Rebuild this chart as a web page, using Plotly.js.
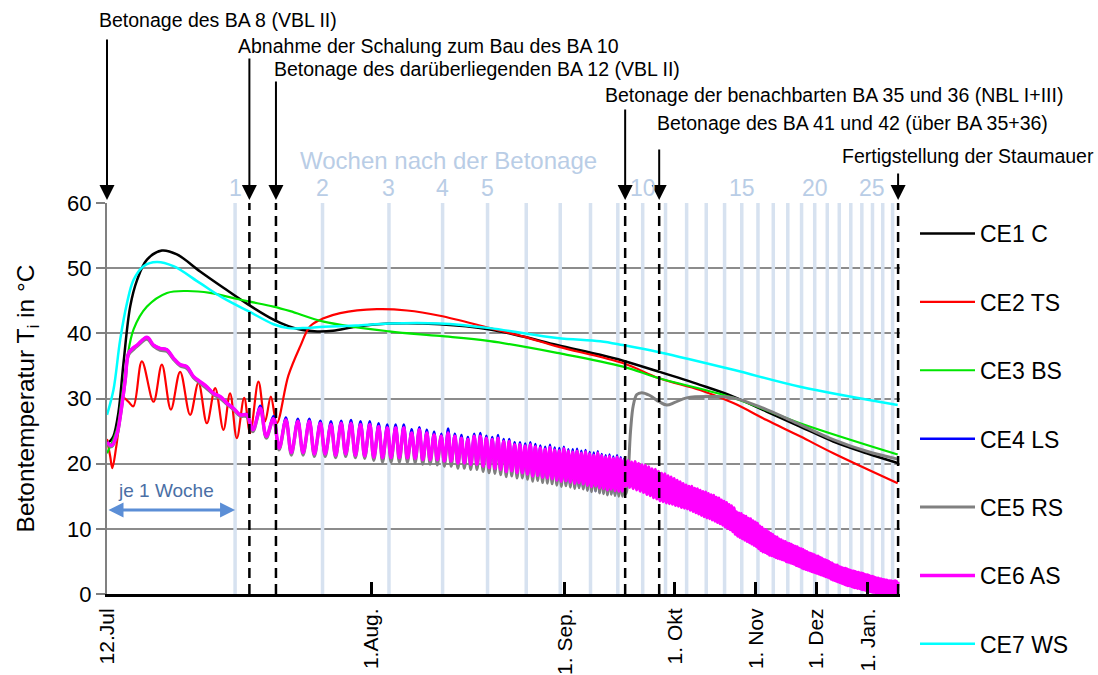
<!DOCTYPE html>
<html>
<head>
<meta charset="utf-8">
<script src="https://cdn.plot.ly/plotly-3.0.1.min.js"></script>
<style>html,body{margin:0;padding:0;background:#fff;}#chart{width:1098px;height:675px;}</style>
</head>
<body>
<div id="chart"></div>
<script>
// ---------------- DATA (days after concreting, temperature in °C) ----------------
const seriesNames = ['CE1 C', 'CE2 TS', 'CE3 BS', 'CE4 LS', 'CE5 RS', 'CE6 AS', 'CE7 WS'];

const dateTickDays = [0, 19, 50, 80, 111, 141, 172];
const dateTickLabels = ['12.Jul', '1.Aug.', '1. Sep.', '1. Okt', '1. Nov', '1. Dez', '1. Jan.'];

const weekNumbers = [1,2,3,4,5,6,7,8,9,10,11,12,13,14,15,16,17,18,19,20,21,22,23,24,25,26,27];
const weekLabelNumbers = [1, 2, 3, 4, 5, 10, 15, 20, 25];

const eventDays = [0, 8, 10, 65, 75, 193];
const eventTexts = [
  'Betonage des BA 8 (VBL II)',
  'Abnahme der Schalung zum Bau des BA 10',
  'Betonage des darüberliegenden BA 12 (VBL II)',
  'Betonage der benachbarten BA 35 und 36 (NBL I+III)',
  'Betonage des BA 41 und 42 (über BA 35+36)',
  'Fertigstellung der Staumauer'
];

// CE1 C
const cDays = [0, 0.14, 0.28, 0.5, 0.73, 1.04, 1.37, 1.85, 2.61, 3.42, 4.76, 6.22, 7.93, 9.81, 11.0, 12.2, 13.5, 15.0, 17.3, 21.0, 27.6, 35.4, 41.4, 48.3, 58.4, 64.4, 75.0, 88.7, 101.5, 115.9, 132.2, 150.5, 171.2, 192.7];
const cTemp = [23.2, 23.5, 24.2, 27.8, 35.4, 44.1, 48.2, 51.3, 52.7, 52.1, 49.5, 47.0, 44.4, 42.1, 41.1, 40.5, 40.3, 40.4, 41.0, 41.5, 41.4, 40.6, 39.5, 38.2, 36.7, 35.8, 34.1, 32.1, 30.3, 28.0, 25.7, 23.4, 21.6, 20.1];

// CE2 TS
const tsDays = [0, 0.14, 0.23, 0.4, 0.58, 0.73, 0.96, 1.19, 1.6, 2.18, 2.61, 3.09, 3.6, 4.17, 4.66, 5.17, 5.69, 6.22, 6.66, 7.12, 7.63, 8.05, 8.66, 9.16, 9.6, 10.07, 11.0, 12.0, 12.87, 14.1, 15.7, 19.6, 23.2, 27.6, 35.4, 41.5, 48.3, 64.5, 75.0, 88.7, 101.5, 115.9, 132.2, 150.5, 192.7];
const tsTemp = [23.8, 21.1, 19.3, 22.5, 27.2, 30.1, 29.5, 28.8, 35.7, 29.5, 35.2, 28.3, 34.1, 27.5, 32.4, 26.2, 31.6, 25.2, 30.8, 23.9, 30.1, 24.7, 32.6, 26.5, 30.3, 26.2, 33.5, 38.0, 41.1, 42.3, 43.1, 43.7, 43.5, 42.7, 40.8, 39.5, 38.0, 35.4, 33.1, 31.3, 29.3, 26.7, 24.2, 21.6, 17.0];

// CE3 BS
const bsDays = [0, 0.43, 0.65, 0.89, 1.2, 1.85, 2.88, 3.98, 5.37, 6.89, 7.93, 9.81, 11.16, 14.1, 21.0, 27.6, 35.4, 48.3, 64.4, 75.0, 101.5, 132.2, 192.7];
const bsTemp = [21.6, 25.2, 30.0, 35.9, 40.6, 44.1, 46.2, 46.5, 46.2, 45.4, 44.9, 44.1, 43.4, 41.8, 40.3, 39.6, 38.8, 37.0, 34.9, 33.1, 30.1, 26.2, 21.4];

// CE7 WS
const wsDays = [0, 0.28, 0.58, 0.89, 1.2, 1.68, 2.35, 3.23, 4.76, 6.22, 7.93, 9.81, 11.0, 12.2, 14.1, 17.3, 21.0, 27.6, 35.4, 48.3, 58.4, 64.4, 75.0, 101.5, 132.2, 192.7];
const wsTemp = [27.5, 31.3, 39.0, 44.6, 48.2, 50.3, 50.95, 50.3, 47.7, 45.4, 43.4, 41.4, 40.8, 40.8, 41.0, 41.2, 41.5, 41.5, 40.8, 39.3, 38.8, 38.2, 37.1, 34.4, 31.8, 29.0];

// CE4 LS / CE5 RS / CE6 AS: first days (smooth), then daily minimum and maximum
const earlyDays = [0, 0.2, 0.45, 0.58, 0.81, 0.97, 1.2, 1.37, 1.85, 2.18, 2.52, 2.88, 3.23, 3.6, 3.98, 4.36, 4.76, 5.17, 5.58, 6.01, 6.45, 6.89, 7.35, 7.82];
const lsEarlyTemp = [23.3, 22.8, 24.8, 27.2, 32.9, 37.0, 37.8, 38.2, 39.4, 38.2, 37.7, 37.5, 36.2, 35.2, 34.9, 33.4, 32.6, 31.8, 30.8, 30.3, 29.3, 28.5, 27.5, 27.6];
const rsEarlyTemp = [23.0, 22.6, 24.5, 27.0, 32.6, 36.7, 37.5, 38.0, 39.1, 38.0, 37.4, 37.2, 36.0, 35.0, 34.6, 33.2, 32.3, 31.5, 30.6, 30.0, 29.1, 28.3, 27.3, 27.2];
const asEarlyTemp = [23.3, 22.8, 24.8, 27.2, 32.9, 37.0, 37.8, 38.2, 39.4, 38.2, 37.7, 37.5, 36.2, 35.2, 34.9, 33.4, 32.6, 31.8, 30.8, 30.3, 29.3, 28.5, 27.5, 27.5];

const dailyStartDay = 8;

// CE4 LS, days 8..64
const lsHigh = [28.9,27.3,27.1,26.9,26.9,26.6,26.5,26.6,26.7,26.5, 26.5,26.2,26.0,26.0,26.0,25.3,25.6,25.2,24.9,24.6, 25.4,24.6,24.4,24.1,24.6,24.7,24.3,24.1,24.4,23.8, 23.8,23.3,23.3,23.1,23.3,23.0,22.8,22.6,22.9,22.5, 22.4,22.6,22.2,22.2,22.3,22.0,22.1,21.8,21.7,21.9, 21.5,21.3,21.4,21.1,21.3,21.0,20.9];
const lsLow = [25.0,24.0,22.3,21.6,21.6,21.4,21.4,21.2,21.4,21.2, 21.1,20.9,20.8,20.8,20.8,20.8,20.7,20.5,20.5,20.5, 20.2,20.2,20.0,19.9,19.7,19.7,19.4,19.2,19.1,18.9, 18.6,18.6,18.3,18.3,18.1,17.8,17.8,17.5,17.4,17.2, 17.0,16.8,16.8,16.6,16.4,16.4,16.2,16.0,15.8,15.8, 15.6,15.5,15.3,15.4,15.2,15.3,15.4];

// CE5 RS, days 8..64, then after the jump
const rsHigh = [28.2,26.7,26.5,26.3,26.3,26.0,25.8,26.0,26.0,25.8, 25.8,25.5,25.3,25.3,25.3,24.5,25.0,24.5,24.2,24.0, 24.4,24.0,23.7,23.5,24.0,24.0,23.7,23.5,23.7,23.2, 23.2,22.7,22.7,22.5,22.7,22.4,22.2,22.0,22.3,21.9, 21.8,22.1,21.7,21.6,21.7,21.4,21.6,21.3,21.1,21.4, 21.0,20.8,20.9,20.6,20.8,20.5,20.4];
const rsLow = [24.9,23.9,22.1,21.3,21.3,21.1,21.1,20.9,21.1,20.9, 20.8,20.5,20.2,20.2,20.2,20.2,20.1,19.9,19.9,19.8, 19.6,19.6,19.3,19.3,19.1,19.1,18.8,18.6,18.5,18.3, 18.0,18.1,17.8,17.8,17.6,17.3,17.4,17.1,17.0,16.9, 16.7,16.5,16.6,16.4,16.2,16.3,16.1,15.9,15.7,15.8, 15.5,15.4,15.2,15.3,15.1,15.0,15.0];
const rsLateDays = [65.3, 65.9, 66.5, 67.3, 68.3, 69.7, 72.0, 75.0, 77.4, 80.0, 84.0, 92.4, 101.5, 115.9, 132.2, 150.5, 171.2, 192.7];
const rsLateTemp = [15.4, 19.0, 25.0, 29.0, 30.6, 30.9, 30.5, 29.5, 29.0, 29.4, 30.1, 30.3, 30.1, 28.3, 26.0, 23.7, 21.9, 20.7];

// CE6 AS, days 8..192
const asHigh = [
 28.5,26.9,26.7,26.5,26.5,26.2,26.0,26.2,26.2,26.0,
 26.0,25.7,25.5,25.5,25.5,24.7,25.2,24.7,24.4,24.2,
 24.7,24.2,23.9,23.7,24.2,24.2,23.9,23.7,23.9,23.4,
 23.4,22.9,22.9,22.7,22.9,22.6,22.4,22.2,22.5,22.1,
 22.0,22.3,21.9,21.8,21.9,21.6,21.8,21.5,21.3,21.6,
 21.2,21.0,21.1,20.8,21.0,20.7,20.6,
 20.4,20.2,20.3,20.0,19.8,19.7,19.5,19.2,19.1,18.8,
 18.5,18.4,18.1,17.9,17.7,17.4,17.2,16.9,16.7,16.5,
 16.5,16.2,16.1,15.9,15.7,15.6,15.4,15.2,15.1,14.8,
 14.7,14.4,14.2,14.0,13.7,13.5,13.2,12.6,12.4,12.3,
 12.0,11.9,11.6,11.5,11.2,11.0,10.8,10.4,10.2,9.9,
 9.8,9.5,9.3,9.1,8.8,8.7,8.4,8.3,8.1,8.0,
 7.8,7.7,7.6,7.4,7.3,7.2,7.0,6.9,6.8,6.6,
 6.5,6.3,6.2,6.1,6.0,5.8,5.8,5.6,5.5,5.3,
 5.2,5.1,5.0,4.8,4.7,4.5,4.4,4.4,4.2,4.1,
 4.0,3.9,3.9,3.8,3.7,3.6,3.5,3.5,3.4,3.3,
 3.3,3.2,3.2,3.1,3.0,2.9,2.9,2.8,2.7,2.7,
 2.6,2.5,2.4,2.4,2.3,2.3,2.2,2.2,2.1,2.1,
 2.0,2.0,2.0,1.9,1.9,2.0,1.9,1.9];
const asLow = [
 25.2,24.2,22.4,21.7,21.7,21.5,21.5,21.3,21.5,21.3,
 21.2,21.0,20.9,20.9,20.9,20.9,20.8,20.6,20.6,20.6,
 20.4,20.4,20.1,20.1,19.9,19.9,19.6,19.4,19.3,19.1,
 18.8,18.9,18.6,18.6,18.4,18.1,18.2,17.9,17.8,17.7,
 17.5,17.3,17.4,17.2,17.0,17.1,16.9,16.7,16.5,16.6,
 16.3,16.2,16.0,16.1,15.9,15.8,15.8,
 16.6,16.4,16.2,16.0,15.8,15.6,15.3,15.1,14.8,14.6,
 14.3,14.2,14.0,13.9,13.8,13.6,13.5,13.3,13.2,13.1,
 12.9,12.7,12.5,12.3,12.1,11.9,11.7,11.6,11.4,11.2,
 11.0,10.8,10.6,10.3,10.1,9.9,9.6,9.2,8.9,8.7,
 8.5,8.3,8.1,7.9,7.7,7.5,7.3,7.0,6.7,6.5,
 6.4,6.2,6.0,5.9,5.8,5.6,5.5,5.4,5.3,5.2,
 5.0,4.9,4.8,4.7,4.6,4.4,4.3,4.2,4.0,3.9,
 3.8,3.7,3.6,3.5,3.4,3.3,3.2,3.1,3.0,2.9,
 2.8,2.7,2.6,2.5,2.3,2.2,2.1,2.0,1.9,1.8,
 1.7,1.6,1.5,1.4,1.3,1.3,1.2,1.1,1.0,1.0,
 0.9,0.9,0.8,0.7,0.7,0.6,0.5,0.5,0.4,0.4,
 0.3,0.3,0.2,0.2,0.2,0.1,0.1,0.1,0.1,0.2,
 0.2,0.1,0.1,0.2,0.1,0.2,0.1,0.1];

// ---------------- BUILD ----------------
const DAY_OFFSET = 12;           // x axis: logarithmic in (days + 12)
const TROUGH_PHASE = 0.25, PEAK_PHASE = 0.8;
const lx = t => t + DAY_OFFSET;
const logx = t => Math.log10(t + DAY_OFFSET);

function daily(startDay, lows, highs) {
  const xs = [], ys = [];
  for (let i = 0; i < lows.length; i++) {
    xs.push(startDay + i + TROUGH_PHASE); ys.push(lows[i]);
    xs.push(startDay + i + PEAK_PHASE); ys.push(highs[i]);
  }
  return {xs, ys};
}

const FONT = 'Liberation Sans, Arial, sans-serif';
const colors = ['#000000', '#ff0000', '#00e600', '#0000ff', '#808080', '#ff00ff', '#00ffff'];
const widths = [2.5, 2.2, 2.2, 2.5, 3, 3.5, 2.5];
const legendOf = ['legend', 'legend', 'legend', 'legend', 'legend', 'legend2', 'legend2'];

const lsD = daily(dailyStartDay, lsLow, lsHigh);
const rsD = daily(dailyStartDay, rsLow, rsHigh);
const asD = daily(dailyStartDay, asLow, asHigh);

const seriesX = [
  cDays, tsDays, bsDays,
  earlyDays.concat(lsD.xs),
  earlyDays.concat(rsD.xs, rsLateDays),
  earlyDays.concat(asD.xs),
  wsDays
];
const seriesY = [
  cTemp, tsTemp, bsTemp,
  lsEarlyTemp.concat(lsD.ys),
  rsEarlyTemp.concat(rsD.ys, rsLateTemp),
  asEarlyTemp.concat(asD.ys),
  wsTemp
];

const traces = [];
// week grid lines
const wx = [], wy = [];
weekNumbers.forEach(w => { wx.push(lx(7*w), lx(7*w), null); wy.push(0, 60, null); });
traces.push({x: wx, y: wy, mode: 'lines', line: {color: '#d7e2f0', width: 3.5}, showlegend: false, hoverinfo: 'skip'});

seriesNames.forEach((name, i) => {
  traces.push({
    x: seriesX[i].map(lx), y: seriesY[i], name: name, mode: 'lines',
    line: {color: colors[i], width: widths[i], shape: 'spline', smoothing: 1},
    legendgroup: 'g' + i, legend: legendOf[i]
  });
});

// dashed event lines
const ex = [], ey = [];
eventDays.slice(1).forEach(d => { ex.push(lx(d), lx(d), null); ey.push(0, 60, null); });
traces.push({x: ex, y: ey, mode: 'lines', line: {color: '#000', width: 2.5, dash: '10px,6px'}, showlegend: false, hoverinfo: 'skip'});

// ---------------- ANNOTATIONS ----------------
const W0 = 107, PW = 793, H0 = 594, PH = 391;
const px2x = px => (px - W0) / PW;
const py2y = py => (H0 - py) / PH;

const textX = [97, 236, 272, 603, 655, 1096];
const textAnchor = ['left', 'left', 'left', 'left', 'left', 'right'];
const textY = [20, 46, 69, 95, 123, 156];
const arrowTail = [38, 57, 80, 108, 148, 172];

const annotations = [];
eventTexts.forEach((txt, i) => {
  annotations.push({
    text: txt, xref: 'paper', yref: 'paper', x: px2x(textX[i]), y: py2y(textY[i]),
    xanchor: textAnchor[i], yanchor: 'middle', showarrow: false,
    font: {family: FONT, size: 19.5, color: '#000'}
  });
  annotations.push({
    text: '', xref: 'x', yref: 'paper', x: logx(eventDays[i]), y: py2y(200),
    showarrow: true, ax: 0, ay: -(200 - arrowTail[i]),
    arrowhead: 2, arrowsize: 1.5, arrowwidth: 2, arrowcolor: '#000', standoff: 0
  });
});

weekLabelNumbers.forEach(w => {
  annotations.push({
    text: String(w), xref: 'x', yref: 'paper', x: logx(7*w), y: py2y(188),
    xanchor: 'center', yanchor: 'middle', showarrow: false,
    font: {family: FONT, size: 23, color: '#b9cde6'}
  });
});
annotations.push({
  text: 'Wochen nach der Betonage', xref: 'paper', yref: 'paper', x: px2x(298), y: py2y(160),
  xanchor: 'left', yanchor: 'middle', showarrow: false,
  font: {family: FONT, size: 24, color: '#b9cde6'}
});

annotations.push({
  text: 'je 1 Woche', xref: 'paper', yref: 'paper', x: px2x(166), y: py2y(490),
  xanchor: 'center', yanchor: 'middle', showarrow: false,
  font: {family: FONT, size: 19, color: '#4a6fa5'}
});
annotations.push({
  text: '', xref: 'x', yref: 'y', x: logx(7), y: 12.9, axref: 'x', ayref: 'y', ax: logx(0), ay: 12.9,
  showarrow: true, arrowside: 'end+start', arrowhead: 2, startarrowhead: 2,
  arrowsize: 1.0, startarrowsize: 1.0, arrowwidth: 3, arrowcolor: '#5b8ed6', standoff: 0, startstandoff: 0
});

const legendBase = {
  xref: 'container', yref: 'container', x: 915/1098, xanchor: 'left', yanchor: 'top',
  font: {family: FONT, size: 23, color: '#000'}, tracegroupgap: 35.5, itemwidth: 55,
  bgcolor: 'rgba(0,0,0,0)', borderwidth: 0
};

const layout = {
  width: 1098, height: 675,
  margin: {l: 107, r: 198, t: 203, b: 81},
  paper_bgcolor: '#fff', plot_bgcolor: '#fff',
  font: {family: FONT, color: '#000'},
  showlegend: true,
  legend: Object.assign({}, legendBase, {y: 1 - 212/675}),
  legend2: Object.assign({}, legendBase, {y: 1 - 554/675}),
  xaxis: {
    type: 'log', range: [Math.log10(lx(0)), Math.log10(lx(194.4))],
    tickvals: dateTickDays.map(lx), ticktext: dateTickLabels, tickangle: -90,
    ticks: 'inside', ticklen: 12, tickwidth: 3, tickcolor: '#000', ticklabelstandoff: 3,
    showline: true, linecolor: '#000', linewidth: 3, showgrid: false, zeroline: false,
    tickfont: {family: FONT, size: 21, color: '#000'}, fixedrange: true
  },
  yaxis: {
    range: [0, 60], tickvals: [0,10,20,30,40,50,60],
    ticks: 'outside', ticklen: 9, tickwidth: 2, tickcolor: '#808080',
    showline: true, linecolor: '#808080', linewidth: 2,
    showgrid: true, gridcolor: '#8c8c8c', gridwidth: 2, zeroline: false,
    tickfont: {family: FONT, size: 22, color: '#000'},
    title: {text: 'Betontemperatur T<sub>i</sub> in °C', font: {family: FONT, size: 24.5, color: '#000'}, standoff: 26},
    fixedrange: true
  },
  annotations: annotations,
  hovermode: false
};

Plotly.newPlot('chart', traces, layout, {staticPlot: true, displayModeBar: false});
</script>
</body>
</html>
